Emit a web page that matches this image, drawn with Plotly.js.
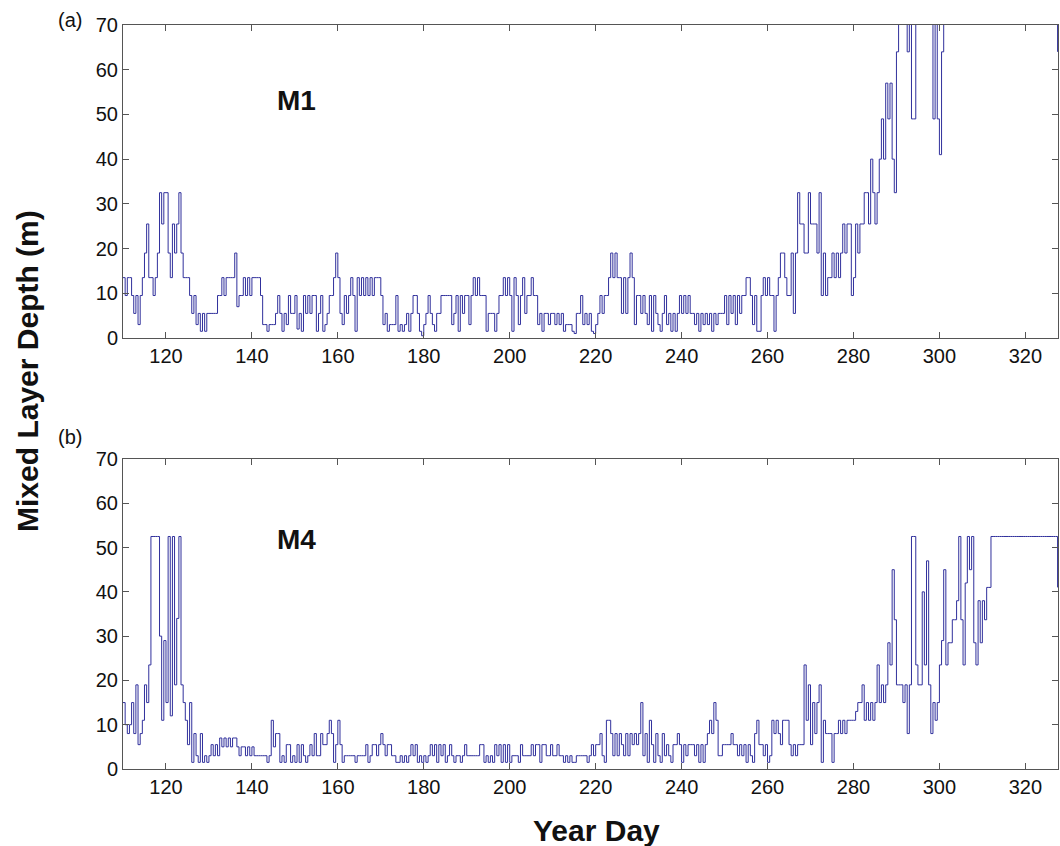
<!DOCTYPE html>
<html>
<head>
<meta charset="utf-8">
<script src="https://cdn.plot.ly/plotly-3.0.1.min.js"></script>
<style>
  html, body { margin: 0; padding: 0; background: #fff; }
  #chart { width: 1060px; height: 846px; }
</style>
</head>
<body>
<div id="chart"></div>
<script>
// Sampling grid: half-day steps starting at year day 110
const dayStart = 110;
const dayStep = 0.5;

// Mixed layer depth (m) at mooring M1; values above 70 m run off the top of the axis
const depthM1 = [
  13.5, 9.5, 13.5, 13.5, 9.5, 5.5, 9.5, 3, 9.5, 13.5,        // 110-114.5
  19, 25.5, 13.5, 13.5, 9.5, 13.5, 19, 32.5, 25.5, 32.5,     // 115-119.5
  32.5, 19, 13.5, 25.5, 19, 25.5, 32.5, 19, 13.5, 13.5,      // 120-124.5
  13.5, 9.5, 5.5, 9.5, 3, 5.5, 1.5, 5.5, 1.5, 5.5,           // 125-129.5
  5.5, 5.5, 5.5, 5.5, 9.5, 9.5, 13.5, 9.5, 13.5, 13.5,       // 130-134.5
  13.5, 13.5, 19, 7, 9.5, 9.5, 13.5, 9.5, 13.5, 9.5,         // 135-139.5
  13.5, 13.5, 13.5, 13.5, 9.5, 3, 3, 1.5, 3, 3,              // 140-144.5
  3, 5.5, 9.5, 5.5, 1.5, 5.5, 3, 9.5, 5.5, 5.5,              // 145-149.5
  9.5, 2, 5.5, 1.5, 9.5, 5.5, 9.5, 5.5, 9.5, 9.5,            // 150-154.5
  1.5, 5.5, 9.5, 1.5, 3, 5.5, 9.5, 9.5, 13.5, 19,            // 155-159.5
  13.5, 5.5, 3, 9.5, 5.5, 9.5, 13.5, 9.5, 1.5, 13.5,         // 160-164.5
  9.5, 13.5, 9.5, 13.5, 9.5, 13.5, 9.5, 13.5, 13.5, 13.5,    // 165-169.5
  9.5, 3, 5.5, 1.5, 3, 3, 3, 9.5, 1.5, 3,                    // 170-174.5
  1.5, 3, 5.5, 1.5, 5.5, 9.5, 9.5, 5.5, 1.5, 0.5,            // 175-179.5
  3, 5.5, 9.5, 5.5, 3, 1.5, 5.5, 5.5, 9.5, 9.5,              // 180-184.5
  9.5, 9.5, 9.5, 3, 5.5, 9.5, 1.5, 9.5, 5.5, 9.5,            // 185-189.5
  9.5, 3, 9.5, 13.5, 9.5, 13.5, 9.5, 9.5, 9.5, 1.5,          // 190-194.5
  5.5, 5.5, 5.5, 1.5, 5.5, 9.5, 9.5, 13.5, 9.5, 13.5,        // 195-199.5
  9.5, 1.5, 13.5, 9.5, 3, 9.5, 13.5, 5.5, 9.5, 9.5,          // 200-204.5
  13.5, 9.5, 9.5, 3, 5.5, 1.5, 5.5, 5.5, 3, 5.5,             // 205-209.5
  5.5, 3, 5.5, 3, 5.5, 1.5, 3, 3, 3, 1.5,                    // 210-214.5
  1, 5.5, 5.5, 9.5, 3, 5.5, 3, 5.5, 1.5, 1,                  // 215-219.5
  3, 5.5, 9.5, 5.5, 9.5, 9.5, 13.5, 19, 13.5, 19,            // 220-224.5
  13.5, 13.5, 5.5, 13.5, 5.5, 13.5, 19, 13.5, 3, 9.5,        // 225-229.5
  9.5, 5.5, 9.5, 5.5, 3, 9.5, 1.5, 9.5, 5.5, 3,              // 230-234.5
  1.5, 5.5, 9.5, 3, 5.5, 1.5, 5.5, 1.5, 5.5, 9.5,            // 235-239.5
  5.5, 9.5, 5.5, 9.5, 5.5, 5.5, 3, 5.5, 1.5, 5.5,            // 240-244.5
  3, 5.5, 3, 5.5, 1.5, 5.5, 3, 5.5, 5.5, 5.5,                // 245-249.5
  9.5, 3, 9.5, 5.5, 9.5, 3, 9.5, 5.5, 9.5, 9.5,              // 250-254.5
  13.5, 13.5, 9.5, 3, 9.5, 1.5, 1.5, 9.5, 13.5, 9.5,         // 255-259.5
  13.5, 9.5, 9.5, 1.5, 9.5, 13.5, 19, 19, 13.5, 9.5,         // 260-264.5
  9.5, 19, 5.5, 19, 32.5, 25.5, 25.5, 19, 19, 32.5,          // 265-269.5
  25.5, 25.5, 25.5, 19, 32.5, 9.5, 19, 9.5, 13.5, 13.5,      // 270-274.5
  19, 13.5, 19, 13.5, 19, 25.5, 19, 25.5, 25.5, 9.5,         // 275-279.5
  13.5, 25.5, 19, 25.5, 25.5, 32.5, 32.5, 25.5, 40, 32.5,    // 280-284.5
  25.5, 32.5, 40, 49, 40, 57, 49, 57, 40, 32.5,              // 285-289.5
  64, 80, 80, 80, 80, 64, 80, 49, 49, 80,                    // 290-294.5
  80, 80, 80, 80, 80, 80, 80, 49, 80, 49,                    // 295-299.5
  41, 64, 80, 80, 80, 80, 80, 80, 80, 80,                    // 300-304.5
  80, 80, 80, 80, 80, 80, 80, 80, 80, 80,                    // 305-309.5
  80, 80, 80, 80, 80, 80, 80, 80, 80, 80,                    // 310-314.5
  80, 80, 80, 80, 80, 80, 80, 80, 80, 80,                    // 315-319.5
  80, 80, 80, 80, 80, 80, 80, 80, 80, 80,                    // 320-324.5
  80, 80, 80, 80, 80, 64                                     // 325-327.5
];

// Mixed layer depth (m) at mooring M4
const depthM4 = [
  15, 10, 8, 10, 15, 8, 19, 5.5, 8, 11,                      // 110-114.5
  19, 15, 23.5, 52.5, 52.5, 52.5, 52.5, 30, 11, 29,          // 115-119.5
  15, 52.5, 12, 52.5, 19, 34, 52.5, 19, 15, 11,              // 120-124.5
  5.5, 15, 1.5, 8, 3, 1.5, 8, 1.5, 3, 1.5,                   // 125-129.5
  3, 5.5, 3, 5.5, 3, 7, 5, 7, 5, 7,                          // 130-134.5
  5, 7, 7, 5, 3, 5, 5, 3, 5, 3,                              // 135-139.5
  5, 3, 3, 3, 3, 3, 3, 1.5, 3, 11,                           // 140-144.5
  5, 8, 8, 1.5, 3, 1.5, 5.5, 5.5, 1.5, 3,                    // 145-149.5
  1.5, 5.5, 1.5, 5.5, 3, 1.5, 3, 5.5, 3, 8,                  // 150-154.5
  3, 3, 8, 5.5, 5.5, 8, 11, 8, 1.5, 5.5,                     // 155-159.5
  11, 5.5, 1.5, 3, 3, 3, 3, 3, 1.5, 3,                       // 160-164.5
  3, 3, 3, 5.5, 1.5, 3, 5.5, 5.5, 3, 5.5,                    // 165-169.5
  8, 5.5, 3, 5.5, 5.5, 3, 3, 1.5, 1.5, 3,                    // 170-174.5
  1.5, 3, 1.5, 3, 5.5, 3, 5.5, 1.5, 3, 1.5,                  // 175-179.5
  3, 1.5, 3, 5.5, 3, 5.5, 1.5, 5.5, 3, 5.5,                  // 180-184.5
  1.5, 3, 5.5, 3, 1.5, 3, 3, 1.5, 3, 5.5,                    // 185-189.5
  3, 3, 3, 3, 3, 3, 5.5, 5.5, 1.5, 3,                        // 190-194.5
  1.5, 3, 1.5, 5.5, 3, 5.5, 1.5, 5.5, 1.5, 5.5,              // 195-199.5
  1.5, 3, 3, 3, 1.5, 5.5, 3, 3, 3, 3,                        // 200-204.5
  5.5, 3, 5.5, 5.5, 1.5, 5.5, 5.5, 3, 3, 5.5,                // 205-209.5
  3, 3, 5.5, 3, 3, 1.5, 3, 1.5, 3, 1.5,                      // 210-214.5
  1.5, 3, 3, 3, 3, 3, 1.5, 3, 5.5, 3,                        // 215-219.5
  5.5, 5.5, 8, 3, 1.5, 11, 11, 8, 3, 8,                      // 220-224.5
  3, 8, 5.5, 3, 8, 3, 8, 5.5, 8, 5.5,                        // 225-229.5
  8, 15, 3, 8, 1.5, 11, 5.5, 1.5, 8, 3,                      // 230-234.5
  1.5, 8, 3, 5.5, 3, 1.5, 5.5, 5.5, 8, 5.5,                  // 235-239.5
  1.5, 5.5, 3, 5.5, 5.5, 5.5, 3, 5.5, 1.5, 5.5,              // 240-244.5
  1.5, 5.5, 8, 11, 8, 15, 11, 3, 3, 5.5,                     // 245-249.5
  5.5, 5.5, 5.5, 8, 5.5, 5.5, 3, 5.5, 3, 5.5,                // 250-254.5
  1.5, 5.5, 3, 1.5, 8, 11, 5.5, 5.5, 3, 5.5,                 // 255-259.5
  1.5, 3, 11, 8, 11, 8, 5.5, 11, 11, 11,                     // 260-264.5
  5.5, 3, 5.5, 3, 5.5, 5.5, 5.5, 23.5, 11, 19,               // 265-269.5
  5.5, 15, 8, 15, 19, 1.5, 11, 8, 8, 8,                      // 270-274.5
  1.5, 8, 8, 11, 8, 11, 8, 11, 11, 11,                       // 275-279.5
  11, 13, 15, 15, 19, 11, 15, 11, 15, 11,                    // 280-284.5
  15, 23.5, 15, 19, 15, 19, 28.5, 23.5, 45, 33.7,            // 285-289.5
  19, 19, 19, 15, 19, 8, 19, 52.5, 52.5, 23.5,               // 290-294.5
  19, 19, 40, 23.5, 47, 19, 8, 15, 11, 15,                   // 295-299.5
  23.5, 29, 45, 23.5, 28.5, 28.5, 33.7, 33.7, 38, 52.5,      // 300-304.5
  33.7, 23.5, 42, 52.5, 45, 52.5, 28.5, 23.5, 38, 28.5,      // 305-309.5
  38, 33.7, 41, 41, 52.5, 52.5, 52.5, 52.5, 52.5, 52.5,      // 310-314.5
  52.5, 52.5, 52.5, 52.5, 52.5, 52.5, 52.5, 52.5, 52.5, 52.5, // 315-319.5
  52.5, 52.5, 52.5, 52.5, 52.5, 52.5, 52.5, 52.5, 52.5, 52.5, // 320-324.5
  52.5, 52.5, 52.5, 52.5, 52.5, 41                           // 325-327.5
];

const xTicks = [120, 140, 160, 180, 200, 220, 240, 260, 280, 300, 320];
const yTicks = [0, 10, 20, 30, 40, 50, 60, 70];
const panelLabels = ['(a)', '(b)'];
const stationNames = ['M1', 'M4'];

const lineColor = '#30309c';
const fontFamily = '"Liberation Sans", Arial, Helvetica, sans-serif';

// Step lines: each depth holds until the next sample
const traces = [
  { x0: dayStart, dx: dayStep, y: depthM1, xaxis: 'x', yaxis: 'y',
    type: 'scatter', mode: 'lines', line: { color: lineColor, width: 1, shape: 'hv' },
    hoverinfo: 'skip', showlegend: false },
  { x0: dayStart, dx: dayStep, y: depthM4, xaxis: 'x2', yaxis: 'y2',
    type: 'scatter', mode: 'lines', line: { color: lineColor, width: 1, shape: 'hv' },
    hoverinfo: 'skip', showlegend: false }
];

function xAxis(anchor) {
  return {
    anchor: anchor, range: [110, 327.6], tickvals: xTicks,
    ticks: 'inside', ticklen: 6, tickcolor: '#555', tickwidth: 1,
    showline: true, linecolor: '#555', linewidth: 1, mirror: 'ticks',
    showgrid: false, zeroline: false,
    tickfont: { family: fontFamily, size: 20, color: '#111' }
  };
}
function yAxis(anchor, domain) {
  return {
    anchor: anchor, domain: domain, range: [0, 70], tickvals: yTicks,
    ticks: 'inside', ticklen: 6, tickcolor: '#555', tickwidth: 1,
    showline: true, linecolor: '#555', linewidth: 1, mirror: 'ticks',
    showgrid: false, zeroline: false,
    tickfont: { family: fontFamily, size: 20, color: '#111' }
  };
}

const layout = {
  width: 1060, height: 846,
  margin: { l: 123, r: 2, t: 25, b: 77 },
  paper_bgcolor: '#fff', plot_bgcolor: '#fff',
  xaxis: xAxis('y'),
  yaxis: yAxis('x', [0.5793, 1]),
  xaxis2: xAxis('y2'),
  yaxis2: yAxis('x2', [0, 0.4167]),
  annotations: [
    { text: '<b>Mixed Layer Depth (m)</b>', xref: 'paper', yref: 'paper',
      x: -0.1016, y: 0.535, xanchor: 'center', yanchor: 'middle', textangle: -90,
      showarrow: false, font: { family: fontFamily, size: 30, color: '#111' } },
    { text: '<b>Year Day</b>', xref: 'paper', yref: 'paper',
      x: 0.5065, y: -0.082, xanchor: 'center', yanchor: 'middle',
      showarrow: false, font: { family: fontFamily, size: 30, color: '#111' } },
    { text: '<b>' + stationNames[0] + '</b>', xref: 'paper', yref: 'paper',
      x: 0.186, y: 0.899, xanchor: 'center', yanchor: 'middle',
      showarrow: false, font: { family: fontFamily, size: 28, color: '#111' } },
    { text: '<b>' + stationNames[1] + '</b>', xref: 'paper', yref: 'paper',
      x: 0.186, y: 0.3078, xanchor: 'center', yanchor: 'middle',
      showarrow: false, font: { family: fontFamily, size: 28, color: '#111' } },
    { text: panelLabels[0], xref: 'paper', yref: 'paper',
      x: -0.0567, y: 1.0067, xanchor: 'center', yanchor: 'middle',
      showarrow: false, font: { family: fontFamily, size: 20, color: '#111' } },
    { text: panelLabels[1], xref: 'paper', yref: 'paper',
      x: -0.0567, y: 0.4462, xanchor: 'center', yanchor: 'middle',
      showarrow: false, font: { family: fontFamily, size: 20, color: '#111' } }
  ]
};

Plotly.newPlot('chart', traces, layout, { staticPlot: true, displayModeBar: false });
</script>
</body>
</html>
